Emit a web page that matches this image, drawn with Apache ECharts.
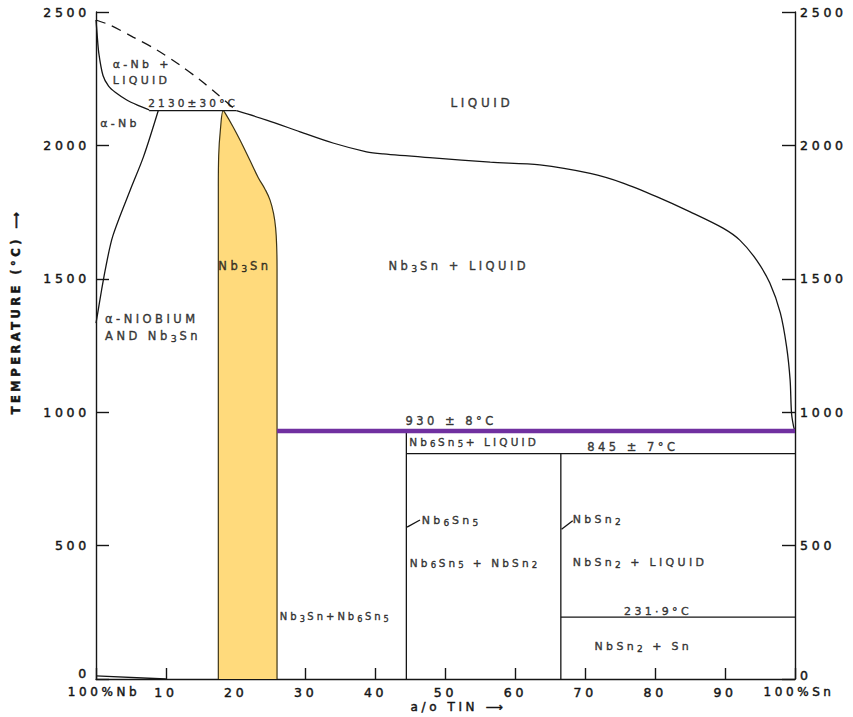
<!DOCTYPE html>
<html>
<head>
<meta charset="utf-8">
<script src="https://cdn.jsdelivr.net/npm/echarts@6/dist/echarts.min.js"></script>
<style>
  html, body { margin: 0; padding: 0; background: #ffffff; }
  #chart { width: 853px; height: 717px; }
  /* hand-lettered look: wide tracking on every label */
  #chart text { letter-spacing: 0.3em; }
</style>
</head>
<body>
<div id="chart"></div>
<script>
// Niobium–tin equilibrium diagram: temperature (°C) against atomic % tin.

const tinTicks = [0, 10, 20, 30, 40, 50, 60, 70, 80, 90, 100];
const tempTicks = [0, 500, 1000, 1500, 2000, 2500];

// Liquidus falling from the melting point of niobium to the 2130 °C peritectic
const nbLiquidus = [[0, 2470], [0.15, 2420], [0.4, 2346], [1.0, 2262], [1.8, 2222],
  [2.8, 2198], [4.4, 2170], [6.0, 2150], [7.6, 2133]];
// Estimated (dashed) boundary above the alpha-Nb + liquid field
const nbEstimated = [[0, 2470], [2, 2451], [5.3, 2406], [8.7, 2358], [12, 2301],
  [14.9, 2245], [17.5, 2189], [20.1, 2130]];
// Solubility limit of tin in alpha-niobium
const alphaSolvus = [[8.9, 2130], [6.8, 1958], [4.9, 1833], [2.4, 1660], [1.4, 1544],
  [0.8, 1458], [0.25, 1372], [0, 1334]];
const alphaSolvusLow = [[0, 12], [10, 0]];
// Nb3Sn single-phase field boundaries
const nb3SnLeft = [[17.5, 0], [17.5, 1850], [17.55, 1960], [17.8, 2060], [18.2, 2130]];
const nb3SnRight = [[18.5, 2120], [19.6, 2070], [20.6, 2020], [22.0, 1945], [23.2, 1880],
  [24.2, 1835], [24.9, 1795], [25.4, 1745], [25.7, 1690], [25.85, 1620], [25.9, 1540], [25.9, 0]];
// Liquidus from the Nb3Sn peritectic towards pure tin
const snLiquidus = [[20.1, 2130], [24.4, 2095], [29.2, 2051], [33.9, 2009], [38.7, 1976],
  [41.1, 1968], [48.2, 1953], [56.4, 1937], [63.5, 1927], [70.7, 1895], [75.4, 1859],
  [80.2, 1808], [85.0, 1751], [89.7, 1690], [92.1, 1645], [94.5, 1570], [96.4, 1484],
  [97.9, 1372], [98.8, 1245], [99.3, 1121], [99.5, 997], [99.8, 946], [100, 930]];
// Invariant reactions
const peritectic2130 = [[7.6, 2130], [20.1, 2130]];
const peritectic930 = [[25.9, 930], [100, 930]];
const peritectic845 = [[44.4, 845], [100, 845]];
const eutectic232 = [[66.5, 231.9], [100, 231.9]];
// Intermediate compounds
const nb6Sn5Line = [[44.4, 0], [44.4, 930]];
const nbSn2Line = [[66.5, 0], [66.5, 845]];
const nb6Sn5Leader = [[44.5, 569], [46.35, 596]];
const nbSn2Leader = [[66.6, 561], [68.2, 593]];

// Field names and reaction temperatures ({s|n} marks a subscript)
const fieldText = ['α-Nb +\nLIQUID', '2130±30°C', 'α-Nb', 'LIQUID', 'Nb{s|3}Sn', 'Nb{s|3}Sn + LIQUID',
  'α-NIOBIUM\nAND Nb{s|3}Sn', '930 ± 8°C', 'Nb{s|6}Sn{s|5}+ LIQUID', '845 ± 7°C', 'Nb{s|6}Sn{s|5}',
  'Nb{s|6}Sn{s|5} + NbSn{s|2}', 'NbSn{s|2}', 'NbSn{s|2} + LIQUID', '231·9°C', 'NbSn{s|2} + Sn',
  'Nb{s|3}Sn+Nb{s|6}Sn{s|5}'];
// Anchor of each name: [at.% Sn, °C]
const fieldAnchor = [[2.4, 2275], [13.9, 2158], [0.6, 2083], [55.2, 2159], [21.3, 1548],
  [51.9, 1548], [1.3, 1317], [50.8, 967], [44.8, 889], [76.8, 871], [46.6, 593], [44.9, 433],
  [68.2, 596], [68.2, 436], [80.4, 252], [78.3, 121], [26.3, 233]];
const fieldAlign = ['left', 'center', 'left', 'center', 'center', 'center', 'left', 'center',
  'left', 'center', 'left', 'left', 'left', 'left', 'center', 'center', 'left'];
const fieldSize = [11, 10.5, 11, 12, 11.5, 11.5, 11.5, 11.5, 10.5, 11.5, 11, 10.5, 11, 11, 11, 11, 10];

const INK = '#151515';
const FONT = 'DejaVu Sans';
const TRACKING = 0.3; // em, same as the stylesheet

// Text widths include the letter tracking so that mixed-size runs line up.
const measureCtx = document.createElement('canvas').getContext('2d');
echarts.setPlatformAPI({
  measureText(text, font) {
    measureCtx.font = font || '12px sans-serif';
    const m = /([\d.]+)px/.exec(measureCtx.font);
    const size = m ? parseFloat(m[1]) : 12;
    return { width: measureCtx.measureText(text).width + TRACKING * size * Array.from(text).length };
  }
});

function curve(data, extra) {
  return Object.assign({
    type: 'line', data: data, showSymbol: false, silent: true, animation: false,
    lineStyle: { color: INK, width: 1.3 }, z: 3
  }, extra || {});
}

const inkText = { color: INK, fontFamily: FONT, textBorderColor: INK, textBorderWidth: 0.45 };

function fieldLabel(text, i) {
  const size = fieldSize[i];
  return Object.assign({
    show: true, position: 'inside', formatter: text, align: fieldAlign[i],
    verticalAlign: 'middle', fontSize: size, lineHeight: size + 5,
    rich: {
      s: Object.assign({ fontSize: size * 0.82, lineHeight: size * 0.82, verticalAlign: 'bottom' }, inkText)
    }
  }, inkText);
}

const series = [
  // Nb3Sn field shading
  curve(nb3SnLeft.concat(nb3SnRight), {
    smooth: 0.4, z: 1,
    lineStyle: { color: '#3d3415', width: 1.2 },
    areaStyle: { color: '#FFDA7C', opacity: 1, origin: 'start' }
  }),
  curve(nbLiquidus, { smooth: 0.3 }),
  curve(nbEstimated, { smooth: 0.3, lineStyle: { color: INK, width: 1.3, type: [10, 7] } }),
  curve(alphaSolvus, { smooth: 0.3 }),
  curve(alphaSolvusLow),
  curve(snLiquidus, { smooth: 0.3 }),
  curve(peritectic2130),
  curve(peritectic845),
  curve(eutectic232),
  curve(nb6Sn5Line),
  curve(nbSn2Line),
  curve(nb6Sn5Leader),
  curve(nbSn2Leader),
  curve(peritectic930, { z: 4, lineStyle: { color: '#7030A0', width: 4.5 } }),
  {
    type: 'scatter', symbolSize: 0, silent: true, animation: false, z: 5,
    data: fieldText.map((t, i) => ({ value: fieldAnchor[i], label: fieldLabel(t, i) }))
  }
];

const axisText = Object.assign({ fontSize: 12.5 }, inkText);

function tempAxis(side) {
  const lift = side === 'left' ? 11 : 7;
  return {
    type: 'value', position: side, min: tempTicks[0], max: tempTicks[tempTicks.length - 1],
    interval: 500,
    axisLine: { show: true, lineStyle: { color: INK, width: 1.4 } },
    axisTick: { show: true, inside: true, length: 13, lineStyle: { color: INK, width: 1.4 } },
    axisLabel: Object.assign({
      margin: side === 'left' ? 6 : 5,
      formatter: v => v === 0 ? '{z|0}' : String(v),
      rich: { z: Object.assign({ fontSize: 12.5, padding: [0, 0, lift, 0] }, inkText) }
    }, axisText),
    splitLine: { show: false }
  };
}

const option = {
  backgroundColor: '#ffffff',
  animation: false,
  grid: { left: 96, right: 58, top: 12, bottom: 38, containLabel: false, outerBoundsMode: 'none' },
  xAxis: {
    type: 'value', min: tinTicks[0], max: tinTicks[tinTicks.length - 1], interval: 10,
    name: 'a/o TIN ⟶', nameLocation: 'middle', nameGap: 20, nameMoveOverlap: false,
    nameTextStyle: Object.assign({ fontSize: 12, padding: [0, 0, 0, 26] }, inkText),
    axisLine: { show: true, lineStyle: { color: INK, width: 1.4 } },
    axisTick: { show: true, inside: true, length: 11, lineStyle: { color: INK, width: 1.4 } },
    axisLabel: Object.assign({
      margin: 5,
      formatter: v => v === 0 ? '{nb|100%Nb}' : v === 100 ? '{sn|100%Sn}' : String(v),
      rich: {
        nb: Object.assign({ fontSize: 12, padding: [0, 0, 0, 16] }, inkText),
        sn: Object.assign({ fontSize: 12, padding: [0, 0, 0, 8] }, inkText)
      }
    }, axisText),
    splitLine: { show: false }
  },
  yAxis: [
    Object.assign(tempAxis('left'), {
      name: 'TEMPERATURE (°C) ⟶', nameLocation: 'middle', nameRotate: 90, nameGap: 72,
      nameMoveOverlap: false,
      nameTextStyle: Object.assign({ fontSize: 11.5, fontWeight: 'bold', padding: [0, 0, 0, 68] }, inkText)
    }),
    tempAxis('right')
  ],
  series: series
};

const chart = echarts.init(document.getElementById('chart'), null, { renderer: 'svg' });
chart.setOption(option);
</script>
</body>
</html>
